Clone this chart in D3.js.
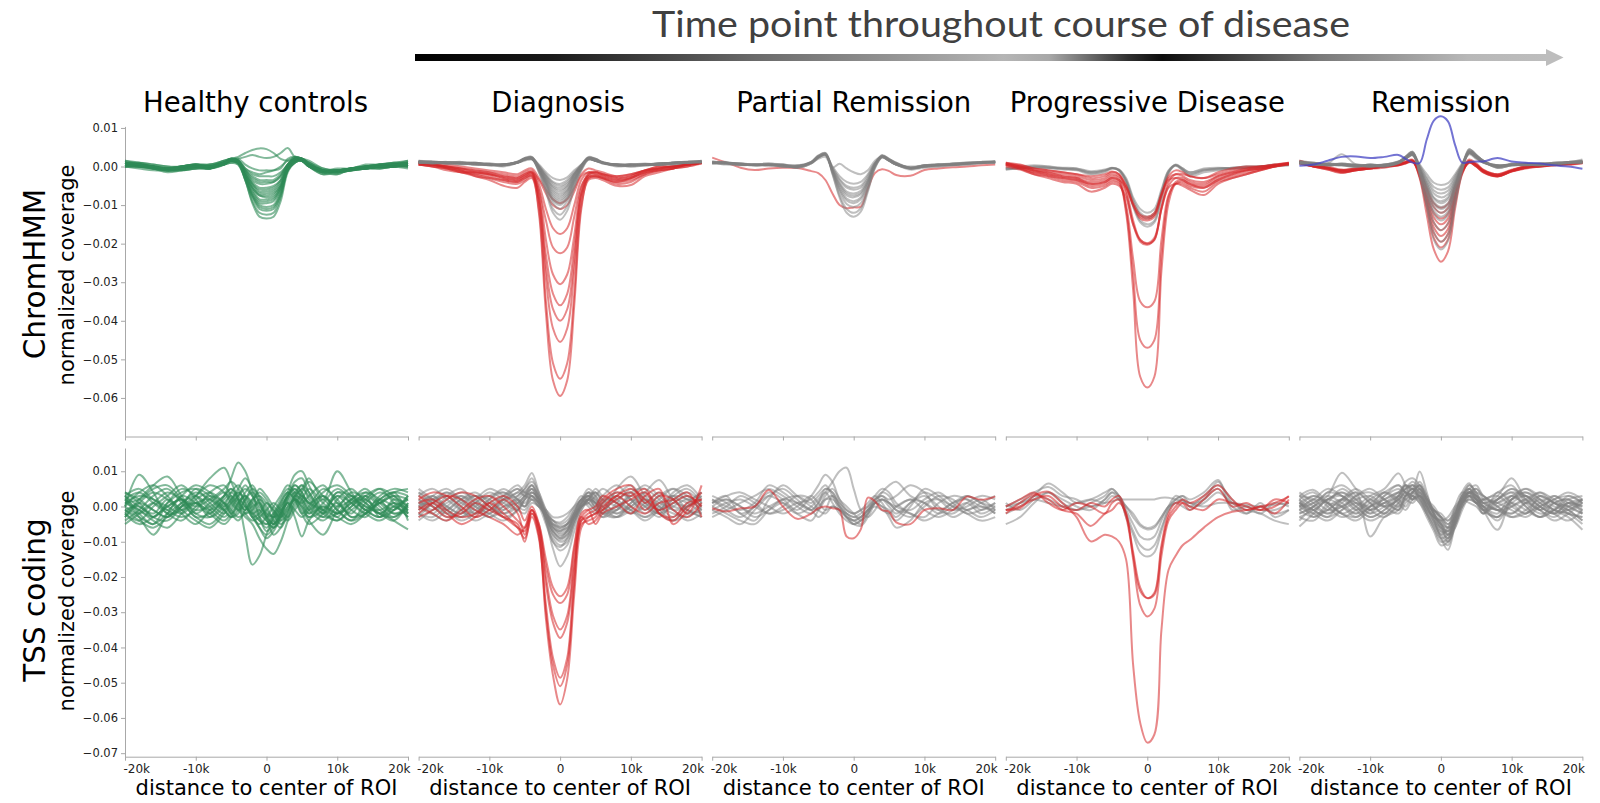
<!DOCTYPE html>
<html>
<head>
<meta charset="utf-8">
<script src="https://cdn.jsdelivr.net/npm/d3@7"></script>
<style>
  body { margin: 0; background: #fff; }
  text { font-family: "DejaVu Sans", sans-serif; }
</style>
</head>
<body>
<script>
// values: normalized coverage in units of 1e-3,
// sampled at these distances (kb) from the ROI centre
var xKb = [-20,-18,-16,-14,-12,-10,-8,-6, -5,-4,-3,-2,-1,0,1,2,3,4,5, 6,8,10,12,14,16,18,20];

var colTitles = ["Healthy controls", "Diagnosis", "Partial Remission", "Progressive Disease", "Remission"];
var rowLabels = ["ChromHMM", "TSS coding"];
var xTicks = [-20, -10, 0, 10, 20];
var yTicksChrom = [10, 0, -10, -20, -30, -40, -50, -60];
var yTicksTss = [10, 0, -10, -20, -30, -40, -50, -60, -70];

// ---- ChromHMM row ----
var chromHealthy = [
  [1,0,-0.5,-0.5,0,0.5,0.5,1.5, 2,2.5,3.5,4.3,4.7,4.5,3.5,2,1.5,2,2, 1,-1,-1.5,-0.5,0,0,0.5,1],
  [0.5,0.5,0,-1,-0.5,0,0,1, 1.5,2,2.5,3,2.5,2.2,2.5,3.5,4.8,2.5,2, 1.5,-0.5,-1,-0.5,-0.5,0,0,0.5],
  [1.5,1,0,-0.5,0,0,-0.5,1, 2,2,0.5,-0.5,-1,-1,-1,-0.5,2,2.5,2, 0.5,-1,-1.5,-1,-0.5,0,0.5,1.5],
  [0,-0.5,-1,-1,-0.5,0,0,1, 1.5,1.5,-0.5,-2,-2.5,-2.5,-2.5,-1.5,0.5,2,1.5, 0,-1.5,-1,-0.5,0,-0.5,0,0],
  [0.5,0,-0.5,-1,-0.5,0,0,1, 1.5,1,-1,-2.5,-3.5,-3.5,-3.5,-2,0.5,2,1.5, 0.5,-1,-1.5,-0.5,-0.5,0,0,0.5],
  [1,0.5,0,-0.5,0,0.5,0,1.5, 2,1.5,-1,-3,-4,-4,-4,-2.5,0.5,2,2, 0.5,-1,-1.5,-1,0,0,0.5,1],
  [0.5,0,0,-1,-1,-0.5,-0.5,0.5, 1.5,1,-1.5,-4,-5.5,-5.5,-5,-3.5,0,2,1.5, 0.5,-1.5,-1,-0.5,-0.5,-0.5,0,0.5],
  [0,0.5,-0.5,-0.5,0,0,-0.5,1, 1.5,1,-2,-4.5,-6.5,-6.5,-6,-4,0,1.5,1.5, 0,-2,-1,-1,0,0.5,0.5,0],
  [1,0.5,0,-1,-0.5,0,0,1, 2,1.5,-2,-5.5,-7.5,-7.5,-7,-5,0,1.5,2, 0.5,-1,-2,-0.5,-0.5,0,0,0.5],
  [0,0.5,0,-0.5,0,0.5,-0.5,0.5, 1.5,1.5,-2.5,-5.5,-7.5,-8,-7.5,-5,-0.5,2,1.5, 0.5,-1,-1,-0.5,0,0.5,0.5,0],
  [0.5,0,-0.5,-0.5,-1,-0.5,0,0.5, 1.5,1,-2.5,-6,-8.5,-8.5,-8,-5.5,-0.5,1.5,1.5, 0,-1.5,-1,-1,-0.5,0,0.5,1],
  [0,0,0,-1,-0.5,0,-0.5,1, 1.5,1,-3,-7,-9.5,-9.5,-9,-6,-0.5,2,2, 0.5,-1.5,-2,-0.5,0,0,0,-0.5],
  [1,0.5,0,-0.5,-0.5,0,0,1, 2,1.5,-3,-7.5,-10,-10.5,-10,-6.5,-1,1.5,2, 0.5,-1,-1,-0.5,-0.5,0.5,1,0.5],
  [0.5,0.5,-0.5,-1,0,0.5,0,0.5, 1.5,1,-3.5,-8,-11,-11.5,-11,-7.5,-1,1,1.5, 0,-1,-1.5,-1,0,0,0,0.5],
  [0,0,0,-0.5,-0.5,0,-0.5,1, 1.5,1,-3.5,-9,-12,-12.5,-12,-8,-1,1,2, 0.5,-1,-1,-0.5,-0.5,0,0.5,1],
  [1,0.5,0,-1,-0.5,0,0,1, 1.5,0.5,-3.5,-9.5,-13,-13.5,-13,-9,-1.5,1,1.5, 0,-1.5,-1,-1,0,0,0.5,0],
  [0.5,1,0.5,0,-0.5,0,0.5,1.5, 2,1.5,-1.5,-4.5,-6,-6,-5.5,-3.5,0.5,2,2, 0.5,-1,-1,-1,-0.5,0,0,0.5],
  [1.5,0.5,-0.5,-1,0,0.5,0,0.5, 1,1,-2,-5,-7,-7,-6.5,-4.5,-0.5,1.5,1.5, 0,-2,-1.5,-0.5,0,0.5,1,1],
  [0,0,-0.5,-1.5,-1,-0.5,0,1, 1.5,1,-2.5,-6.5,-9,-9,-8.5,-5.5,-0.5,2,2, 1,-1,-1.5,-1,-0.5,-0.5,0,0.5],
  [1,1,0.5,0,0,0.5,0.5,1, 2,1.5,-1,-3.5,-4.5,-4.5,-4,-2.5,0.5,2.5,2, 0.5,-1,-0.5,-0.5,0.5,0.5,1,1.5],
  [0.5,0,0,-0.5,-0.5,-0.5,-0.5,0.5, 1,0.5,-3,-7.5,-10.5,-11,-10.5,-7,-1,1,1.5, 0,-1.5,-1,-0.5,-0.5,0,0,0],
  [1,0.5,0,-1,-1,0,0,1, 1.5,1.5,-0.5,-1.5,-2,-1.5,-1,0,1.5,2.5,2, 1,-0.5,-1,-0.5,0,0.5,0.5,1]
];

var chromDiagGray = [
  [1.2,1,1,0.8,1,0.5,0.5,1, 1.8,2,0.5,-1.5,-3,-3.5,-2.8,-1,0.5,2,1.5, 1,0.5,0.3,0.5,0.5,0.8,1,1.3],
  [1.5,1.2,0.8,1,0.8,0.3,0.5,1.2, 2,2.3,0.3,-2,-4,-4.5,-3.5,-1.5,0.5,2.3,1.8, 1,0.3,0.5,0.5,0.8,1,1.2,1.5],
  [1,1.3,1,1,0.8,0.5,0.5,1, 1.5,1.8,0,-2.3,-4.3,-5,-4,-1.8,0.3,1.8,1.5, 1,0.5,0.5,0.3,0.5,1,1.2,1.2],
  [1,1,1.2,0.8,0.5,0.5,0.3,1, 1.8,2,0,-2.5,-4.8,-5.5,-4.5,-2,0.3,2,1.5, 0.8,0.5,0,0.3,0.5,0.5,1,1.2],
  [1.2,1,0.8,1,1,0.5,0.5,1, 2,2.2,0,-2.8,-5.2,-6,-5,-2,0.3,2.2,1.8, 1,0.3,0.3,0.5,0.8,0.8,1,1.3],
  [1.3,0.8,1,1,0.8,0.8,0.5,1.2, 2.2,2.5,0,-3,-5.5,-6.5,-5.2,-2.2,0.3,2.5,2, 1,0.5,0.5,0.8,0.5,1,1,1.3],
  [1,1.2,0.8,0.5,0.8,0.5,0,1, 1.8,2,-0.5,-3.3,-6,-7,-5.8,-2.5,0,2,1.5, 1,0,0.3,0.3,0.8,0.8,1.2,1],
  [1.3,1.2,1,0.8,0.8,0.5,0.3,1.2, 2,2.3,-0.3,-3.5,-6.5,-7.5,-6.2,-2.8,0,2.2,1.8, 1,0.5,0.3,0.5,0.5,1,1.2,1.2],
  [1.5,1,1,1,0.5,0.3,0.5,1.2, 2,2.2,-0.5,-3.8,-7,-8,-6.5,-3,0,2.2,2, 1.2,0.5,0.5,0.5,0.5,1,1,1.5],
  [1.2,1.3,1,0.8,1,0.5,0.3,1, 2,2.3,-0.5,-4,-7.5,-8.5,-7,-3.2,-0.2,2,1.5, 0.8,0.3,0,0.5,0.8,1,1.3,1.2],
  [1,0.8,1,1.2,0.8,0.8,0.5,1.3, 2.2,2.5,-0.8,-4.3,-8,-9,-7.5,-3.5,-0.3,2.3,1.8, 1,0.5,0.5,0.3,0.5,0.8,1,1],
  [1,1,1,1,0.8,0.5,0.5,1, 1.8,2.2,-0.8,-4.5,-8.5,-9.5,-8,-3.8,-0.3,2,1.5, 1,0.3,0.5,0.5,0.8,1,1,1.4],
  [1.3,1,0.8,0.8,0.5,0.5,0.3,1, 1.8,2,-1,-4.8,-8.8,-10,-8.3,-4,-0.5,2,1.5, 1,0.3,0.3,0.5,0.8,1,1.2,1.4],
  [1.2,1.2,1,0.8,0.8,0.3,0.5,1.2, 2,2.2,-1,-5.2,-9.5,-11,-9,-4.3,-0.5,2.2,2, 1.2,0.5,0.5,0.5,0.5,0.8,1,1.2],
  [1,1,1.2,1,0.5,0.5,0.5,1, 1.8,2,-1.3,-6,-11,-12.5,-10.3,-5,-0.8,1.8,1.5, 1,0.3,0.3,0.5,0.8,1,1.2,1.3],
  [1.4,1.2,1,1,0.8,0.5,0.3,1.2, 2,2.2,-1.5,-6.5,-12,-13.8,-11.5,-5.5,-1,1.8,1.8, 1,0.5,0.3,0.5,0.5,0.8,1,1.2]
];

var chromDiagRed = [
  [0.5,0,-0.5,-1.5,-2,-2.5,-3.5,-4, -3,-2.5,-12,-38,-55.5,-59.5,-55.5,-36,-11,-3,-2.5, -3,-4.5,-4,-2,-1,-0.5,0,1],
  [1,0.5,-0.3,-1,-2.5,-3.5,-5,-5.5, -4,-3,-11,-35,-51,-55,-51,-33,-10,-3.5,-3, -3.5,-5,-4.8,-2.5,-1.5,-0.5,0.5,1],
  [0.5,0,-1,-1.5,-1.5,-2,-3,-3.5, -2.5,-2,-9,-29,-42,-45.5,-42,-27,-8,-2.5,-2, -2.5,-3.5,-3,-1.5,-0.5,0,0.5,1],
  [1,0.5,0,-0.5,-1,-1.5,-2.5,-3, -2,-1.5,-8,-26,-37,-40,-37,-24,-7,-2,-1.5, -2,-3,-2.5,-1,-0.5,0,0.5,1],
  [0.5,0.5,-0.5,-1,-2,-3,-4,-4.5, -3.5,-2.5,-8,-23,-33,-36,-33,-21,-7,-3,-2.5, -3,-4,-3.5,-2,-1,-0.5,0,0.8],
  [1,0.5,0,-1,-1.5,-2,-2.5,-3, -2,-1.5,-6,-19,-28,-30.5,-28,-18,-5.5,-2,-1.5, -2,-2.5,-2,-1,0,0,0.5,1],
  [0.5,0,-0.5,-1.5,-2.5,-3,-3.5,-4, -3,-2,-6,-14,-21,-22.5,-21,-13,-5,-2.5,-2.5, -3,-4,-3,-1.5,-1,-0.5,0.5,1],
  [1,0.5,0,-0.5,-1,-1.5,-2,-2.5, -1.5,-1,-4.5,-11,-16,-17.5,-16,-10,-3.5,-1.5,-1.5, -2,-3,-2.5,-1,-0.5,0,0.5,1],
  [0.5,0.5,0,-0.5,-1.5,-2,-3,-3.5, -2.5,-1.5,-3.5,-7,-10,-11,-10,-6.5,-2.5,-1.5,-2, -2.5,-3.5,-3,-1.5,-0.5,0,0.5,0.8],
  [1,0.5,0.5,0,-0.5,-1,-1.5,-2, -1,-0.5,-3,-6,-8.5,-9.5,-8.5,-5.5,-2,-0.5,-1, -1.5,-2.5,-2,-1,0,0,0.5,1]
];

var chromPartialGray = [
  [1,0.8,0.5,0.5,0.5,0.3,0,1, 2.5,3,0,-2.5,-4,-4.5,-4,-2,1,2.5,1.5, 0.5,-0.5,0,0.3,0.5,0.7,1,1.2],
  [1.3,1,0.8,0.3,0.5,0.5,-0.3,0.8, 2.3,3.2,-0.3,-3.2,-5,-5.5,-5,-2.5,0.8,2.8,1.8, 0.8,-0.3,0.3,0.5,0.5,0.8,1.2,1],
  [0.8,1,0.5,0.5,0.3,0,0,1.2, 2.8,3.5,-0.5,-3.5,-5.5,-6,-5.5,-3,0.8,2.5,1.5, 0.5,-0.8,-0.3,0,0.3,0.5,0.8,1.3],
  [1,0.5,0.3,0.5,0.8,0.5,0.3,1, 2.5,3,-0.8,-4.2,-6.5,-7,-6.3,-3.5,0.5,2.8,2, 1,-0.5,0,0.3,0.8,1,1,1.2],
  [1.2,1,0.8,0.5,0.3,0.3,-0.3,0.8, 2.5,3.3,-1,-4.5,-7,-7.5,-6.8,-3.8,0.5,3,2, 0.8,-0.3,0.3,0.5,0.5,0.5,1,1],
  [1,1.2,0.5,0.3,0.5,0,0,1, 2.3,3,-1,-5,-7.5,-8,-7.2,-4,0.3,2.5,1.5, 0.5,-0.5,0,0,0.3,0.8,1.2,1.4],
  [0.8,0.8,0.8,0.5,0.5,0.3,0.3,1.2, 2.8,3.5,-1.3,-5.5,-8.3,-9,-8,-4.5,0.3,2.8,1.8, 0.8,-0.3,0.3,0.5,0.5,0.8,1,1.2],
  [1.2,1,0.5,0.3,0.3,0.5,0,1, 2.5,3.2,-1.3,-6,-8.8,-9.5,-8.5,-4.8,0,2.5,1.8, 1,-0.3,0,0.3,0.8,1,1,1],
  [1,0.8,0.5,0.5,0.8,0.3,-0.3,0.8, 2.3,3,-1.5,-6.5,-9.7,-10.5,-9.5,-5.3,0,2.3,1.5, 0.5,-0.5,0,0.5,0.5,0.8,1.2,1.3],
  [1.3,1,0.8,0.3,0.5,0.3,0,1, 2.5,3.2,-1.8,-7.5,-11,-12,-10.8,-6,-0.3,2.5,1.8, 0.8,-0.3,0.3,0.3,0.5,0.8,1,1.2],
  [0.8,1,0.5,0.5,0.3,0,0,1.2, 2.8,3.3,-2,-8,-12,-13,-11.7,-6.5,-0.5,2.3,1.5, 0.5,-0.5,0,0.5,0.8,1,1,1.3],
  [1,0.8,0.5,0.3,0.5,0,0,1, 2,2.5,-0.3,0.7,-0.5,-1.5,-2,-1,1.5,2.5,1.5, 0.5,0,0.3,0.5,0.5,1,1,1]
];
var chromPartialRed = [
  [2.3,1,-0.3,-0.9,-0.5,-0.3,-0.4,-1.2, -1.7,-3.5,-7,-10,-10.8,-10.6,-10.4,-5.7,-1.7,-0.7,-1.2, -2.2,-2.4,-0.9,-0.5,-0.2,0,0.3,0.5]
];

var chromProgGray = [
  [-0.5,-0.3,0,0,-0.3,-0.5,-1.5,-1, -0.5,-0.8,-3,-8,-11,-12,-11,-6,-1,0.4,-0.5, -1.5,-0.8,-0.5,-0.3,0,0,0.3,0.5],
  [-0.8,-0.5,-0.3,-0.5,-0.5,-0.8,-1.8,-1.2, -0.4,-1,-3.5,-8.5,-12,-13,-12,-6.5,-1.2,0.3,-0.8, -2,-1,-0.8,-0.5,-0.3,0,0.3,0.3],
  [-0.3,0,0.3,0,-0.5,-0.5,-1.2,-0.8, -0.3,-0.8,-3.5,-9,-12.5,-13.5,-12.5,-7,-1.5,0.5,-0.5, -1.5,-0.5,-0.3,-0.5,-0.3,0,0.5,0.5],
  [-0.5,-0.5,-0.3,-0.3,-0.8,-1,-2,-1.5, -0.5,-1,-4,-10,-14,-15,-14,-8,-1.5,0.2,-1, -2.5,-1.5,-1,-0.5,-0.5,-0.3,0,0.3],
  [-0.8,-0.3,0,-0.3,-0.5,-0.8,-1.5,-1, -0.4,-1,-4,-10.5,-14.5,-15.6,-14.5,-8.5,-1.8,0.3,-0.8, -2,-1,-0.5,-0.3,0,0,0.3,0.5]
];
var chromProgRed = [
  [0.5,-0.5,-1.5,-2,-3,-3.5,-5,-4.5, -3.5,-4,-12,-32,-54.5,-57.3,-54.5,-27,-9.5,-4.5,-4, -5,-5.5,-3.5,-2.5,-1.5,-0.8,0,0.8],
  [1,0,-1,-1.5,-2.5,-3,-4.5,-4, -3,-3.5,-11,-28,-45,-47,-45,-23,-8,-4,-3.5, -4.5,-5,-3,-2,-1,-0.5,0.3,1],
  [0.5,-0.3,-1.5,-2.5,-3.5,-4,-5.5,-5, -4,-4.5,-10,-24,-35,-36.5,-35,-19,-7.5,-4.5,-4.5, -5.5,-6.5,-4,-3,-2,-1,0,0.8],
  [0.8,0,-1,-2,-2.5,-3,-4,-3.5, -2.5,-3,-7,-15,-19.5,-20.3,-19,-11,-5,-3,-3, -4,-4.5,-2.5,-1.5,-1,-0.5,0.3,0.8],
  [0.3,-0.5,-2,-3,-4,-4.5,-6.5,-5.5, -4.5,-5,-8,-15,-19,-19.9,-18.5,-11,-5.5,-4.5,-5, -6,-7.4,-4.5,-3,-2,-1,0,0.5],
  [1,0.5,-0.5,-1,-1.5,-2,-3,-2.5, -1.5,-2,-6,-14,-19,-20,-19,-10.5,-4,-2,-2, -2.5,-3,-2,-1,-0.5,0,0.5,1],
  [0.5,0,-1,-1.5,-2,-2.5,-3.5,-3, -2,-2.5,-5,-9.5,-12.5,-13,-12,-7,-3,-2,-2.5, -3.5,-4,-2.5,-1.5,-0.5,0,0.3,0.8],
  [0,-0.8,-2,-2.5,-3,-3.5,-4.5,-4, -3,-3.5,-5.5,-10,-13,-13.5,-12.5,-7.5,-3.5,-3,-3.5, -4.5,-5.5,-3.5,-2,-1,-0.5,0,0.5],
  [0.8,0.3,-0.5,-1,-1.5,-2,-2.5,-2, -1.3,-2,-5,-10,-13.5,-14,-13,-7.5,-2.5,-1,-1.5, -2.5,-3,-1.5,-0.5,0,0,0.5,0.8]
];

var chromRemGray = [
  [1,0.5,0.5,0.5,0,0.3,0.3,1, 2,3,0.5,-2,-4.2,-4.8,-4.3,-2,0.8,3.5,2.5, 1.3,0.3,0.5,0.5,0.5,0.8,1,1.2],
  [1.3,0.8,0.3,0.8,0.3,0,0.5,1.3, 2.3,3.5,0.3,-2.8,-5.3,-6,-5.4,-2.5,0.5,4,2.8, 1.5,0,0.8,0.5,0.3,0.5,1.2,1],
  [0.8,0.5,0.8,3.2,0.5,0.3,0,1, 2,3,0,-3.2,-6.2,-7,-6.3,-3,0.5,3.5,2.3, 1,0.3,0.5,0.8,0.5,0.5,0.8,1.5],
  [1,0.8,0.5,0.3,0,0.5,0.3,1.2, 2.5,3.8,-0.3,-3.8,-7,-8,-7.2,-3.5,0.3,4.5,3, 1.5,-0.3,0.3,0.5,0.8,0.8,1,1],
  [1.5,1,0.5,0.5,0.3,0,0.5,1, 2.2,3.2,-0.5,-4.3,-8,-9,-8,-4,0.3,3.8,2.5, 1.2,0,0.5,0.3,0.5,1,1.2,1.3],
  [1,0.5,0.3,0.5,0.3,0.3,0,0.8, 2,3,-0.5,-4.5,-8.3,-9.5,-8.5,-4.2,0,3.5,2.2, 1,0.3,0.5,0.5,0.3,0.5,1,1.8],
  [0.8,0.8,0.5,0.3,0,0.5,0.3,1, 2.3,3.5,-0.8,-5,-9.2,-10.5,-9.5,-4.7,0,4,2.8, 1.3,-0.3,0.3,0.5,0.5,0.8,1,1],
  [1.2,0.5,0.8,0.5,0.5,0,0.5,1.2, 2.5,3.5,-0.8,-5.5,-9.7,-11,-10,-5,0,3.2,2, 1,0,0.5,0.8,0.5,0.5,1.2,1.2],
  [1,1,0.5,0.5,0.3,0.3,0.3,1, 2,3,-1,-6,-10.5,-12,-10.8,-5.4,-0.3,3.5,2.5, 1.2,0.3,0.3,0.5,0.8,0.8,1,1.5],
  [1.3,0.8,0.3,0.5,0,0.5,0,0.8, 2.2,3.3,-1,-6.5,-11.4,-13,-11.7,-5.8,-0.3,3.8,2.8, 1.5,0,0.5,0.5,0.5,1,1,1],
  [0.8,0.5,0.5,0.8,0.3,0,0.3,1.2, 2.5,3.8,-1.3,-7,-12.3,-14,-12.6,-6.3,-0.5,4.2,3, 1.3,-0.3,0.3,0.3,0.5,0.5,1.2,1.3],
  [1,0.8,0.8,0.5,0.5,0.3,0.3,1, 2,3,-1.5,-8,-14.5,-16.5,-14.8,-7.5,-0.5,3.5,2.3, 1,0,0.5,0.8,0.5,0.8,1,1.2],
  [1.2,0.5,0.3,0.3,0,0.3,0.5,1.3, 2.3,3.5,-2,-9.5,-17,-19.5,-17.5,-9,-1,3.8,2.5, 1.2,0.3,0.3,0.5,0.8,0.8,1,1],
  [1,1,0.5,0.5,0.3,0,0.3,1, 2.5,3.8,-2.3,-10.5,-19,-21.5,-19.3,-10,-1.3,4.5,3, 1.5,0,0.5,0.5,0.5,1,1.2,1.5]
];
var chromRemRed = [
  [1,0,-0.5,-1,-0.5,-0.3,0,0.5, 1,1.5,-1,-5.5,-9.5,-10.7,-9.7,-5,-0.5,1.5,0.5, -1,-2,-1,0,0.3,0.5,0.8,1],
  [1.5,0.5,-0.3,-1.5,-1,-0.5,0,0.3, 1,1.2,-1.2,-6,-10.5,-12,-10.8,-5.5,-0.8,1.2,0.3, -1.3,-2.5,-1.2,-0.3,0,0.3,0.5,1],
  [0.8,0,-0.8,-1.7,-0.8,-0.3,0.3,0.8, 1.3,1.8,-1.5,-7,-12,-13.5,-12.2,-6.2,-1,1.8,0.8, -0.8,-2,-0.8,0,0.5,0.5,1,1.2],
  [1.2,0.3,-0.5,-1,-0.5,-0.5,-0.3,0.3, 0.8,1.3,-1.8,-7.5,-13.2,-15,-13.5,-6.8,-1.2,1,0, -1.5,-2.6,-1.3,-0.3,0,0.3,0.8,1],
  [1,0,-0.3,-1.2,-1,-0.5,0,0.5, 1,1.5,-2,-8.3,-14.5,-16.5,-14.8,-7.5,-1.3,1.5,0.5, -1,-2.2,-1,0,0.3,0.5,0.5,0.8],
  [1.5,0.5,0,-0.8,-0.5,0,0.3,0.8, 1.2,1.5,-2.2,-9,-15.8,-18,-16.2,-8.1,-1.5,1.2,0.3, -1.2,-2.3,-1.2,-0.3,0.3,0.5,0.8,1.2],
  [0.8,0,-0.8,-1.5,-1,-0.5,0,0.3, 0.8,1.2,-2.5,-9.8,-17.2,-19.5,-17.5,-8.8,-1.5,1,0, -1.5,-2.5,-1.3,-0.5,0,0.3,0.8,1],
  [1.2,0.3,-0.3,-1,-0.8,-0.3,0.3,0.5, 1,1.5,-2.7,-10.5,-18.5,-21,-18.9,-9.5,-1.8,1.3,0.3, -1,-2.2,-1,0,0.3,0.5,1,1.3],
  [1,0,-0.5,-1.3,-1,-0.5,0,0.5, 1,1.3,-3,-12.5,-21.5,-24.7,-22,-11,-2,1,0, -1.3,-2.5,-1.2,-0.3,0,0.5,0.8,1]
];
var chromRemBlue = [
  [0.2,0.5,1.5,2.5,2.6,2.2,2.5,3, 2,1,0.9,7,11.9,13,11.7,5.6,1,1.2,1.3, 1.3,2.2,1.3,1,0.8,0.3,0,-0.6]
];

// ---- TSS coding row ----
var tssHealthy = [
  [2,-3,-8,-2,3,1,-2,3, 8,12.5,10,4,-3,-7,-5,-1,3,6,4, 0,-3,2,5,1,-2,1,-1],
  [0,9,4,-2,-1,3,8,11, 7,2,-8,-16.5,-14,-8,-3,0,3,5,3, -1,2,-2,1,3,-3,2,0],
  [-3,2,6,8.5,3,-2,1,4, 2,-1,-3,-5,-9,-12,-13.5,-10,-4,2,5, 3,-2,4,1,-2,2,4,-2],
  [4,1,-3,-4,0,5,3,-1, -3,-2,2,4,1,-3,-5,-2,4,9,10, 6,-1,-4,0,3,5,1,-3],
  [-2,-4,0,3,6,2,-3,0, 4,6,3,-1,-4,-5,-2,2,5,3,-1, -4,-8,-1,4,2,-1,-4,-6.5],
  [1,3,2,-1,-3,-1,4,6, 3,0,-2,-1,2,0,-4,-6,-2,3,5, 8,2,10,4,-1,1,3,2],
  [-1,0,-3,1,4,5,1,-2, 0,3,5,3,0,-2,-3,-1,1,4,6, 2,-2,1,-3,-2,1,-1,3],
  [3,-2,-5,1,5,3,-1,-4, -2,1,3,1,-2,-4,-6,-4,0,2,0, -3,1,5,2,-1,-3,0,2],
  [-4,-1,3,5,1,-3,-5,-1, 2,4,1,-3,-5,-3,0,3,6,4,1, -2,3,-1,-4,1,4,2,-1],
  [2,4,1,-2,-4,0,3,1, -2,-4,-1,2,4,2,-2,-5,-3,1,4, 7,3,0,2,5,1,-2,0],
  [0,-2,1,4,2,-1,0,3, 5,2,-2,-4,-3,-1,1,-1,-3,0,3, 1,-3,-2,2,0,-2,-4,1],
  [-2,1,-1,-3,0,3,6,4, 1,-1,0,-3,-6,-8,-6,-2,3,7,8, 4,-1,3,-1,-3,2,4,3],
  [1,-1,-3,0,2,-2,-3,1, 3,1,-1,2,3,1,-1,-3,-1,2,0, -3,-1,4,3,0,-1,1,-2],
  [3,5,2,0,-2,1,2,-1, -3,-1,2,5,3,-1,-3,-2,1,-3,-8.5, -4,0,-2,1,2,-2,-3,0],
  [-1,-3,-5,-2,1,4,2,-1, 1,3,6,3,-1,-4,-6,-3,2,4,3, 1,-1,-3,-5,-2,3,5,4],
  [4,2,-1,-3,1,3,0,-3, -1,2,0,-2,-1,-3,-2,1,4,2,-2, 0,5,2,-3,-1,2,0,-2],
  [-3,1,4,2,-2,-5,-1,3, 5,3,0,-2,-4,-6,-3,1,4,2,-2, -5,-2,3,1,-2,-4,-1,3],
  [2,-1,-4,-6,-2,2,4,1, -2,0,4,6,2,-3,-8,-6,-1,2,1, 3,6,1,-2,3,0,-3,1],
  [0,4,6,3,-1,1,-2,-5, -3,1,3,0,-3,-5,-4,0,3,5,2, -2,0,-3,2,4,1,3,-4],
  [-5,-2,1,-1,3,6,4,0, 2,5,8,5,1,-3,-5,-2,1,-1,-3, -1,4,6,3,-1,-3,-1,2],
  [3,0,-2,2,-1,-4,-6,-2, 1,4,2,-2,-6,-9,-7,-3,0,3,6, 4,-2,-4,-1,2,5,3,0],
  [-2,-5,-3,0,2,0,2,5, 7,5,1,-3,-2,1,-1,-4,-2,3,2, -1,-4,0,3,1,-2,0,-3],
  [1,2,5,6,2,-3,-2,1, -1,-3,-2,0,1,-2,-5,-3,2,6,4, 1,3,-1,-4,-2,1,4,5],
  [-1,-4,-6,-3,0,1,-1,2, 4,2,-1,1,5,3,0,-2,-4,-1,2, 5,1,-2,0,4,2,-2,-1]
];

var tssDiagGray = [
  [2,-1,3,5,1,-2,2,4, 6,9.5,4,-2,-5.5,-7,-5,-1,2,4,1, -2,5,8.5,3,-1,4,6,2],
  [-3,1,4,2,-2,0,3,6, 4,3,1,-3,-7,-9,-8,-3,1,3,2, 0,-2,1,4,7.5,2,-1,-3],
  [0,3,-1,-4,-2,2,5,2, 0,4,2,-4,-9,-11,-10,-5,0,2,4, 1,-1,3,0,-3,1,3,0],
  [4,2,0,-2,1,3,1,-1, 2,5,1,-3,-6,-8,-7,-2,2,0,-2, 1,4,2,-2,1,3,-1,-3],
  [-2,-4,-1,2,4,1,-2,0, 3,6,3,-1,-4,-5,-4,-1,2,5,3, -1,-3,0,2,-1,-4,-2,1],
  [1,0,-3,-1,2,5,3,0, -1,2,0,-5,-10,-11.5,-9,-4,1,3,1, 3,6,2,-1,2,5,3,0],
  [3,5,2,-1,-3,-1,2,3, 5,7,4,-1,-5,-6,-5,-2,1,2,0, -3,-1,4,5,2,-1,0,3],
  [-1,2,4,1,-1,-3,0,2, 1,3,1,-2,-5,-6.5,-6,-3,0,3,4, 2,0,-2,1,4,2,-2,-1],
  [-4,-1,1,3,0,-2,-4,-1, 2,4,2,-3,-8,-10,-9,-4,0,1,-1, 1,3,0,-3,-1,2,4,1],
  [2,0,-2,1,3,0,-2,1, 3,5,1,-4,-12,-17,-14,-7,-1,2,1, -2,-1,2,0,-2,0,2,-1],
  [0,-2,2,4,2,-1,1,4, 3,2,0,-1,-3,-3,-2,0,2,3,1, 0,2,4,1,-1,1,0,2],
  [5,2,-1,-3,-1,2,4,1, 0,3,1,-2,-4,-4.5,-3,0,3,1,-1, -2,0,3,6,3,0,-1,-2],
  [-2,1,3,0,-2,1,3,5, 4,6,2,-2,-6,-7.5,-6.5,-3,1,4,3, 0,-3,-1,2,0,-3,1,4],
  [1,3,0,-2,1,4,2,-1, -2,1,0,-3,-7,-8.5,-7,-3,0,2,5, 3,1,-1,-3,0,3,2,-1],
  [1,-2,-4,0,3,2,-1,2, 4,6,2,-3,-7,-9,-7,-2,2,3,-1, -3,1,5,2,-2,-4,0,3],
  [-1,3,5,2,0,-3,-1,3, 5,8,3,-2,-6,-7,-6,-2,0,1,3, 5,2,-1,-4,-1,3,5,1],
  [3,1,-2,-3,0,3,4,2, 0,2,1,-3,-8,-9.5,-8,-4,-1,2,4, 2,-2,0,3,1,-1,-4,-2],
  [-2,-3,0,3,1,-1,2,5, 3,4,2,-2,-5,-5.5,-5,-2,1,4,2, -1,3,6,1,-2,2,1,-2],
  [0,2,3,-1,-4,-2,0,1, 3,5,3,-4,-10,-12.5,-11,-5,0,2,0, 2,1,-2,0,3,5,2,4],
  [4,1,-1,2,3,0,-3,-1, 2,3,0,-2,-4,-6,-5,-3,0,2,1, -2,-3,1,4,0,-2,-3,0]
];
var tssDiagRed = [
  [-2,1,3,2,-1,-3,-5,-8, -6,-1,-8,-32,-48,-56.2,-49,-25,-6,-3,-2, 0,3,5,2,-1,1,3,0],
  [1,2,-1,-3,-2,1,-2,-6, -9,-3,-9,-30,-45,-51,-45,-22,-5,-4,-3, 1,4,3,5,-2,-4,0,2],
  [-3,-1,2,4,3,0,-3,-5, -10,-2,-8,-28,-43,-48.6,-43,-20,-4,-2,-1, 2,5,6,1,4,-1,-3,1],
  [0,-2,-4,-1,2,3,0,-4, -6,-1,-6,-22,-33,-37.3,-33,-17,-4,-3,-2, -1,2,4,-1,3,2,-2,6],
  [2,4,3,0,-3,-1,2,-2, -8,-2,-6,-20,-31,-34.9,-31,-15,-3,-1,0, 3,1,-2,3,5,-5,-1,4],
  [-1,1,-2,-5,-3,1,3,0, -4,0,-5,-17,-25,-27.4,-25,-12,-3,-5,-4, -1,3,0,-2,1,2,4,-3],
  [3,0,-3,-2,1,-1,-3,-6, -7,-1,-5,-15,-23,-25.5,-23,-11,-2,-1,-5, -2,0,2,4,-2,-3,1,2]
];

var tssPartialGray = [
  [1,3,-2,0,4,2,-1,3, 6,9,7,2,0,-2,-4,-2,1,0,-1, -3,1,4,2,-1,0,2,-1],
  [-1,-3,-5,-1,3,5,2,-1, 1,4,7,10,11,5,-1,-3,-1,2,1, 0,2,-1,-3,-1,1,-2,0],
  [3,1,-2,-4,2,6,3,0, -1,2,3,0,-3,-5,-5.5,-3,1,4,6, 7,3,1,-2,0,3,1,-2],
  [0,2,0,-3,-1,1,-2,-4, -1,3,5,2,-1,-2,-1,1,3,1,-2, -4,0,5,3,0,-2,-4,-3],
  [-2,0,3,1,-2,-1,1,2, 4,6,3,-1,-3,-4,-3,-1,2,3,1, -1,-3,0,3,2,-1,1,3],
  [2,-1,-3,0,3,1,-2,0, 2,4,1,-2,-4,-5,-4,-2,1,2,0, -2,1,3,0,-3,-1,0,-2],
  [1,3,4,2,0,-2,0,3, 1,-1,0,-1,-2,-3,-2,0,3,5,4, 1,-2,-3,1,3,2,-1,1],
  [-3,-1,1,3,5,3,0,-2, 0,2,2,0,-2,-3,-3,-1,1,0,-3, -6,-4,1,2,0,-1,-3,-1],
  [0,-2,-4,-5,-1,2,1,-1, -3,-1,3,1,-1,-2,-1,0,2,3,2, 3,6,4,-1,-2,1,3,2],
  [2,0,-1,1,6,4,1,-1, 1,5,4,1,-2,-4,-3,-1,0,-1,-2, 0,2,1,-1,1,3,1,0],
  [-1,1,2,0,-2,0,3,2, -1,-2,0,-1,-3,-4,-5,-2,2,4,3, 0,-1,2,4,1,-2,-1,1],
  [1,2,0,-2,0,2,3,1, 3,5,4,0,-3,-5,-4,-1,1,2,1, -1,-2,-4,-2,1,2,0,-1]
];
var tssPartialRed = [
  [-0.5,-1.4,-0.5,0,4.7,0,-3.5,-2, -0.5,0,-0.5,-1,-8.5,-9,-6.5,2.5,1.5,-1,-1.5, -4.5,-5,-1,-0.5,-1,2.8,1.9,2.8]
];

var tssProgGray = [
  [-5,-3,1,4,2,0,-1,2, 4,3,0,-2,-5,-6.1,-5.5,-3,0,2,3, 1,2,7,1,-1,-2,-4,-5],
  [-2,0,3,6.5,4,1,2,4, 5,3,-1,-5,-8.5,-9.4,-8.5,-4,0,3,2, 0,3,6,2,-2,1,-3,-1],
  [0,2,4,5.5,3,2,0,2, 4,2,-2,-7,-11,-12.3,-11,-6,-1,2,3, 2,4,7.5,-1,0,-2,1,0],
  [1,-1,2,4,1,-1,1,3, 5,3,-3,-8,-13,-14.2,-13,-7,-1,1,0, -1,2,5,0,-2,0,-2,-1],
  [0,1,2,1,0,1,2,1, 1.5,2,2,2,2,2,2,2.5,2.5,2,1.5, 1,0,1,1,0.5,0,0.5,1],
  [-1,1,3,2,0,-1,0,1, 3,2,0,-3,-5.5,-6.5,-6,-3,0,1,2, 0,1,4,1,0,-1,-1,1]
];
var tssProgRed = [
  [-1,-0.5,3,4.2,1,-3,-9.9,-8, -8.5,-10,-15,-45,-61.4,-67,-64.7,-35,-18,-14,-11, -9.5,-6,-3,-1.5,-1,0,1,2.8],
  [-2,1,3.5,2,-1,-2,-5.5,-2, -1,1,-2,-15,-28,-31.2,-29,-14,-4,-1,1, 0,-1,2,1,0,-1,2,1],
  [0,2,4,1,-1,1,0,-2, 1,2,-3,-14,-24,-26,-25,-12,-3,0,2, 1,3,6,2,-1,0,-2,2],
  [-1,0,2,3,0,-1,1,0, 2,3,-2,-13,-23,-26,-24.5,-11,-2,1,1, -1,2,5,0,1,-1,0,3]
];

var tssRemGray = [
  [2,-3,1,5,2,-2,3,6, 4,2,5,1,-4,-8,-6,0,4,3,1, -2,4,1,-2,3,1,-1,-4],
  [-4,0,3,9.6,5,1,-2,3, 6,5,9.9,4,-3,-9,-12.3,-5,3,5,2, 0,-2,3,0,-3,1,2,-1],
  [4,1,-2,1,4,-8.5,-3,-1, 3,5,2,-1,-3,-5,-6,-2,2,4,3, -1,-6.6,2,4,1,-2,-4,-1],
  [0,3,1,-2,0,3,5,9.4, 6,2,3,1,-2,-6,-8,-3,3,6,4, 1,3,8,2,-1,3,0,-2],
  [-5.7,-2,2,0,-3,0,2,4, 5,6,4,0,-4,-7,-7,-1,2,3,1, 2,1,3,5,2,-1,-3,-6.6],
  [3,4.7,1,-2,-4,-1,1,-1, 2,4,6,2,-2,-5,-10,-6,1,4,5, 3,0,-2,1,4,2,0,2],
  [1,-1,-3,2,5,2,0,2, 4,3,1,-2,-5,-9,-11,-4,4,6.6,3, 1,-1,1,-1,-3,-1,2,3],
  [-2,0,4,3,0,-3,-1,3, 5,7,5,0,-3,-4,-3,0,2,1,0, -2,2,5,3,0,-2,1,0],
  [2,4,0,-3,-1,2,4,1, -1,2,3,0,-1,-3,-5,-3,1,3,2, 0,-3,0,2,-1,-4,-2,1],
  [-1,-3,-1,2,4,1,-2,0, 3,5,2,-2,-6,-10,-9,-4,2,5,6, 3,1,-1,-3,0,2,4,2],
  [0,2,5,3,-1,-4,-2,1, 3,4,6,3,-1,-2,-4,-2,0,2,1, -1,0,2,4,2,-1,-2,-3],
  [1,-2,-4,-1,3,4,2,0, 2,3,1,-3,-7,-11,-10,-2,3,4,2, 0,-1,-3,-1,2,0,-1,2],
  [-3,-1,2,4,2,-1,1,4, 6,4,3,-1,-4,-6,-7,-3,1,2,1, -1,-3,2,5,3,1,0,-2],
  [3,0,-2,0,2,3,0,-2, 1,3,5,2,0,-3,-6,-5,0,4,3, 2,4,6,1,-2,-1,1,0],
  [-1,1,3,1,-2,0,3,5, 4,2,4,1,-2,-5,-8,-6,-1,3,5, 2,-1,0,2,4,1,-1,-4],
  [0,-2,-1,2,1,-1,1,3, 7,8,6,2,-1,-3,-4,-1,2,4,2, 1,2,4,3,0,-2,1,2],
  [1,3,1,-2,-3,0,4,2, 0,4,7,3,-2,-7,-9,-3,3,5,2, -1,2,4,0,-3,-1,3,1],
  [-2,0,2,4,1,-2,0,3, 2,1,3,0,-3,-4,-6,-3,2,6,4, 0,-4,1,3,1,-1,-2,-5],
  [3,2,-1,0,3,5,2,-1, 3,5,4,1,-1,-4,-8,-4,1,3,1, 2,3,0,-2,1,3,1,-1],
  [-3,-4,0,2,-1,1,4,6, 4,3,2,-1,-5,-8,-10,-5,0,4,3, 1,-1,-2,1,-1,-3,0,2],
  [0,1,4,6,3,-1,-3,1, 5,6,5,2,-2,-5,-7,-4,1,3,2, -2,1,3,1,3,1,-2,-3],
  [2,-1,-3,-1,1,0,2,4, 3,4,6,2,-1,-3,-5,-2,2,4,4, 3,0,-3,-2,0,2,3,1],
  [-1,2,1,0,-2,2,0,2, 6,5,3,0,-3,-6,-9,-5,1,5,3, -1,-3,2,3,0,-2,-1,1],
  [1,-1,2,3,0,-3,-1,2, 4,6,3,-2,-6,-9,-8,-3,2,4,1, 0,2,5,2,-1,1,2,-2]
];

// which groups go in which panel (drawn in this order)
var panelGroups = [
  [
    [["green", chromHealthy]],
    [["red", chromDiagRed], ["gray", chromDiagGray]],
    [["red", chromPartialRed], ["gray", chromPartialGray]],
    [["gray", chromProgGray], ["red", chromProgRed]],
    [["red", chromRemRed], ["gray", chromRemGray], ["blue", chromRemBlue]]
  ],
  [
    [["green", tssHealthy]],
    [["gray", tssDiagGray], ["red", tssDiagRed]],
    [["gray", tssPartialGray], ["red", tssPartialRed]],
    [["gray", tssProgGray], ["red", tssProgRed]],
    [["gray", tssRemGray]]
  ]
];

var lineColor = { green: "#2e8b57", gray: "#7f7f7f", red: "#d62728", blue: "#4444c4" };
var lineAlpha = { green: 0.6, gray: 0.5, red: 0.55, blue: 0.75 };

var width = 1600, height = 803;
var svg = d3.select("body").append("svg")
    .attr("width", width)
    .attr("height", height);

var panelW = 283;
function colLeft(c) { return 125 + c * 293.6; }

var rows = [
  { top: 126.4, bottom: 436.5, domain: [-70, 10.4], ticks: yTicksChrom, showX: false, labelY: 274 },
  { top: 448, bottom: 756.7, domain: [-71, 16.6], ticks: yTicksTss, showX: true, labelY: 600 }
];

var fmtY = d3.format(".2f");

function styleAxis(g) {
  g.select(".domain").attr("stroke", "#a8a8a8");
  g.selectAll(".tick line").attr("stroke", "#a8a8a8");
  g.selectAll(".tick text")
    .attr("fill", "#222")
    .style("font-family", "DejaVu Sans")
    .style("font-size", "11.5px");
}

rows.forEach(function(row, r) {
  var y = d3.scaleLinear().domain(row.domain).range([row.bottom, row.top]);

  // y axis only on first column
  var yAxis = d3.axisLeft(y)
      .tickValues(row.ticks)
      .tickFormat(function(d) { return fmtY(d / 1000); })
      .tickSize(4).tickSizeOuter(0).tickPadding(3);
  svg.append("g")
    .attr("transform", "translate(" + colLeft(0) + ",0)")
    .call(yAxis)
    .call(styleAxis);

  // row labels
  svg.append("g").attr("transform", "translate(45," + row.labelY + ") rotate(-90)")
    .append("text").attr("text-anchor", "middle")
    .style("font-size", "29.5px").attr("fill", "#000")
    .text(rowLabels[r]);
  svg.append("g").attr("transform", "translate(74," + (row.labelY + 1) + ") rotate(-90)")
    .append("text").attr("text-anchor", "middle")
    .style("font-size", "21px").attr("fill", "#000")
    .text("normalized coverage");

  for (var c = 0; c < 5; c++) {
    var x0 = colLeft(c);
    var x = d3.scaleLinear().domain([-20, 20]).range([x0, x0 + panelW]);

    var line = d3.line()
      .x(function(d, i) { return x(xKb[i]); })
      .y(function(d) { return y(d); })
      .curve(d3.curveCatmullRom.alpha(0.5));

    var g = svg.append("g");
    panelGroups[r][c].forEach(function(grp) {
      g.selectAll(null)
        .data(grp[1])
        .enter().append("path")
        .attr("d", line)
        .attr("fill", "none")
        .attr("stroke", lineColor[grp[0]])
        .attr("stroke-opacity", lineAlpha[grp[0]])
        .attr("stroke-width", 2)
        .attr("stroke-linejoin", "round");
    });

    var xAxis = d3.axisBottom(x)
      .tickValues(xTicks)
      .tickSize(4).tickSizeOuter(0).tickPadding(4)
      .tickFormat(function(d) { return row.showX ? (d === 0 ? "0" : d + "k") : ""; });
    var ax = svg.append("g")
      .attr("transform", "translate(0," + row.bottom + ")")
      .call(xAxis)
      .call(styleAxis);
    ax.selectAll(".tick text").style("font-size", "12px");
    // end labels pulled inward, as in the original
    var tt = ax.selectAll(".tick text").nodes();
    d3.select(tt[0]).attr("text-anchor", "start").attr("x", -2);
    d3.select(tt[tt.length - 1]).attr("text-anchor", "end").attr("x", 2);

    if (row.showX) {
      svg.append("text")
        .attr("x", x0 + panelW / 2)
        .attr("y", 795)
        .attr("text-anchor", "middle")
        .style("font-size", "21px")
        .attr("fill", "#000")
        .text("distance to center of ROI");
    }
  }
});

// column titles
var titleShift = [-11, -2, 0, 0, 0];
colTitles.forEach(function(t, c) {
  svg.append("text")
    .attr("x", colLeft(c) + panelW / 2 + titleShift[c])
    .attr("y", 111.5)
    .attr("text-anchor", "middle")
    .style("font-size", "27.5px")
    .attr("fill", "#000")
    .text(t);
});

// time arrow
var defs = svg.append("defs");
var grad = defs.append("linearGradient").attr("id", "timeGrad")
  .attr("x1", "0%").attr("x2", "100%").attr("y1", "0%").attr("y2", "0%");
[[0, "#000"], [0.12, "#1a1a1a"], [0.3, "#6a6a6a"], [0.52, "#b5b5b5"], [0.56, "#a8a8a8"],
 [0.63, "#303030"], [0.66, "#0d0d0d"], [0.8, "#7a7a7a"], [0.93, "#b8b8b8"], [1, "#bdbdbd"]]
  .forEach(function(s) { grad.append("stop").attr("offset", s[0]).attr("stop-color", s[1]); });

svg.append("rect").attr("x", 415).attr("y", 54).attr("width", 1132).attr("height", 7)
  .attr("fill", "url(#timeGrad)");
svg.append("path").attr("d", "M1546,49 L1563.5,57.5 L1546,66 Z").attr("fill", "#bdbdbd");

svg.append("text")
  .attr("x", 1001).attr("y", 37)
  .attr("text-anchor", "middle")
  .attr("textLength", 698).attr("lengthAdjust", "spacingAndGlyphs")
  .style("font-family", "Lato, 'Open Sans', sans-serif")
  .style("font-size", "37px")
  .attr("fill", "#404040")
  .text("Time point throughout course of disease");
</script>
</body>
</html>
